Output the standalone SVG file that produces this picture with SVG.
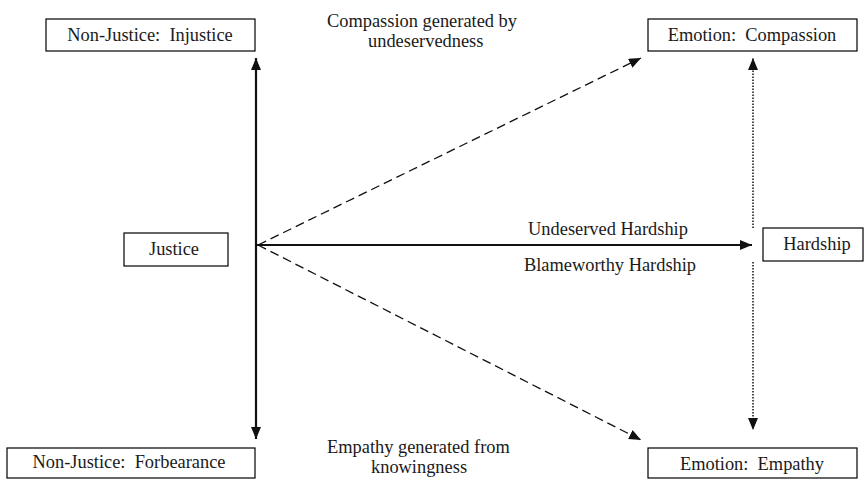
<svg xmlns="http://www.w3.org/2000/svg" width="864" height="479" viewBox="0 0 864 479">
<style>
.box{fill:#fff;stroke:#000;stroke-width:1.2}
.t{font-family:"Liberation Serif","Times New Roman",serif;font-size:18.4px;fill:#1a1a1a;white-space:pre}
.c{text-anchor:middle}
.solid{stroke:#111;stroke-width:2.2;fill:none}
.dash{stroke:#111;stroke-width:1.3;stroke-dasharray:9 5;fill:none}
.dot{stroke:#111;stroke-width:1.5;stroke-dasharray:1.5 1.5;fill:none}
</style>
<defs>
<marker id="ah" markerUnits="userSpaceOnUse" markerWidth="12" markerHeight="10" refX="12" refY="5" orient="auto-start-reverse" viewBox="0 0 12 10">
<path d="M0,0 L12,5 L0,10 z" fill="#111"/>
</marker>
</defs>
<rect width="864" height="479" fill="#fff"/>
<g id="connectors">
<line class="solid" x1="256" y1="58" x2="256" y2="439" marker-start="url(#ah)" marker-end="url(#ah)"/>
<line class="solid" x1="256" y1="245" x2="752" y2="245" marker-end="url(#ah)"/>
<line class="dash" x1="258" y1="245" x2="641" y2="58" marker-end="url(#ah)"/>
<line class="dash" x1="258" y1="245" x2="641" y2="440" marker-end="url(#ah)"/>
<line class="dot" x1="753" y1="228" x2="753" y2="58" marker-end="url(#ah)"/>
<line class="dot" x1="753" y1="262" x2="753" y2="430" marker-end="url(#ah)"/>
<text class="t c" x="608" y="235">Undeserved Hardship</text>
<text class="t c" x="610" y="271">Blameworthy Hardship</text>
<text class="t" x="327" y="27">Compassion generated by</text>
<text class="t" x="368" y="47">undeservedness</text>
<text class="t" x="327" y="453">Empathy generated from</text>
<text class="t" x="371" y="473">knowingness</text>
</g>
<g id="injustice">
<rect class="box" x="46" y="19" width="209" height="32"/>
<text class="t c" x="150" y="41" xml:space="preserve">Non-Justice:  Injustice</text>
</g>
<g id="compassion">
<rect class="box" x="648" y="19" width="209" height="32"/>
<text class="t c" x="752" y="41" xml:space="preserve">Emotion:  Compassion</text>
</g>
<g id="justice">
<rect class="box" x="124" y="233" width="104" height="33"/>
<text class="t c" x="174" y="255">Justice</text>
</g>
<g id="hardship">
<rect class="box" x="763" y="228" width="100" height="33"/>
<text class="t c" x="817" y="250">Hardship</text>
</g>
<g id="forbearance">
<rect class="box" x="7" y="448" width="248" height="30"/>
<text class="t c" x="129" y="468" xml:space="preserve">Non-Justice:  Forbearance</text>
</g>
<g id="empathy">
<rect class="box" x="648" y="448" width="209" height="30"/>
<text class="t c" x="752" y="470" xml:space="preserve">Emotion:  Empathy</text>
</g>
</svg>
